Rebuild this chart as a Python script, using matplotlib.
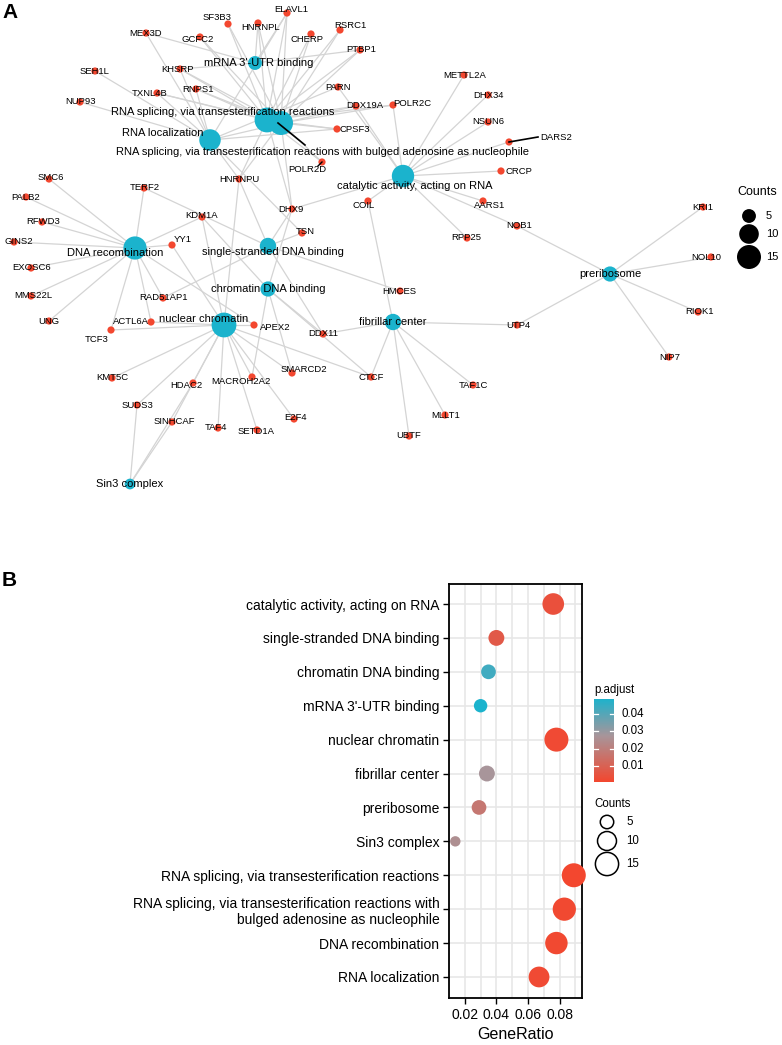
import numpy as np
import matplotlib
matplotlib.use("Agg")
import matplotlib.pyplot as plt
from matplotlib.colors import LinearSegmentedColormap, Normalize

plt.rcParams['font.family'] = ['Liberation Sans', 'DejaVu Sans']

# ---------------- Data ----------------
# Enrichment terms (panel B order, top to bottom)
terms = ["catalytic activity, acting on RNA", "single-stranded DNA binding",
         "chromatin DNA binding", "mRNA 3'-UTR binding", "nuclear chromatin",
         "fibrillar center", "preribosome", "Sin3 complex",
         "RNA splicing, via transesterification reactions",
         "RNA splicing, via transesterification reactions with\nbulged adenosine as nucleophile",
         "DNA recombination", "RNA localization"]
gene_ratio = [0.076, 0.040, 0.035, 0.030, 0.078, 0.034, 0.029, 0.014, 0.089, 0.083, 0.078, 0.067]
p_adjust = [0.004, 0.007, 0.043, 0.0487, 0.002, 0.027, 0.017, 0.025, 0.0008, 0.0015, 0.0015, 0.002]
counts = [13, 7, 6, 5, 16, 7, 6, 3, 16, 15, 14, 12]

# Network (panel A): category nodes layout
cat_names = ["mRNA 3'-UTR binding", "RNA splicing, via transesterification reactions",
             "RNA splicing, via transesterification reactions with bulged adenosine as nucleophile",
             "RNA localization", "catalytic activity, acting on RNA", "DNA recombination",
             "single-stranded DNA binding", "chromatin DNA binding", "nuclear chromatin",
             "fibrillar center", "preribosome", "Sin3 complex"]
cat_counts = [5, 16, 15, 12, 13, 14, 7, 6, 16, 7, 6, 3]
cat_x = [255, 267, 281, 210, 403, 135, 268, 268, 224, 393, 610, 130]
cat_y = [63, 120, 123, 140, 176, 248, 246, 289, 325, 322, 274, 484]
cat_lx = [259, 223, 323, 163, 415, 115, 273, 268, 204, 393, 610, 130]
cat_ly = [63, 112, 152, 133, 186, 253, 252, 289, 319, 322, 274, 484]

# Gene nodes layout
genes = ["ELAVL1", "SF3B3", "HNRNPL", "MEX3D", "GCFC2", "CHERP", "RSRC1", "PTBP1",
         "SEH1L", "KHSRP", "TXNL4B", "RNPS1", "NUP93", "PARN", "DDX19A", "CPSF3",
         "POLR2D", "HNRNPU", "SMC6", "TERF2", "PALB2", "POLR2C", "METTL2A", "DHX34",
         "NSUN6", "DARS2", "CRCP", "KDM1A", "DHX9", "COIL", "RFWD3", "TSN", "GINS2",
         "YY1", "EXOSC6", "MMS22L", "RAD51AP1", "UNG", "ACTL6A", "TCF3", "APEX2",
         "DDX11", "AARS1", "NOB1", "RPP25", "KRI1", "NOL10", "RIOK1", "NIP7", "UTP4",
         "HMCES", "CTCF", "KMT5C", "SMARCD2", "MACROH2A2", "HDAC2", "SUDS3", "SINHCAF",
         "TAF4", "SETD1A", "E2F4", "TAF1C", "MLLT1", "UBTF"]
gene_x = [287, 228, 258, 146, 200, 311, 340, 360, 95, 180, 157, 196, 80, 338, 356, 337,
          322, 239, 49, 144, 26, 393, 464, 488, 488, 509, 501, 202, 292, 368, 42, 302, 14,
          172, 31, 31, 163, 49, 151, 111, 254, 323, 483, 517, 467, 703, 711, 698, 669, 517,
          400, 371, 112, 292, 252, 193, 137, 172, 218, 257, 294, 473, 445, 409]
gene_y = [13, 24, 23, 33, 37, 34, 30, 50, 71, 69, 93, 89, 102, 87, 106, 129, 162, 179,
          179, 188, 197, 105, 75, 95, 122, 142, 171, 217, 209, 201, 222, 233, 242, 245,
          268, 296, 298, 321, 322, 330, 325, 334, 201, 226, 238, 207, 257, 312, 357, 325,
          291, 377, 378, 373, 377, 383, 405, 422, 428, 430, 419, 385, 415, 436]
gene_lx = [291, 217, 261, 146, 198, 307, 350, 361, 95, 177, 150, 198, 81, 338, 365, 355,
           307, 239, 51, 145, 26, 412, 465, 488, 488, 556, 519, 202, 291, 364, 43, 305, 19,
           183, 32, 33, 163, 49, 131, 97, 275, 323, 490, 519, 466, 703, 706, 699, 670, 518,
           399, 371, 112, 304, 241, 186, 137, 174, 216, 256, 296, 473, 446, 409]
gene_ly = [10, 18, 28, 34, 40, 40, 26, 50, 71, 70, 93, 89, 102, 87, 106, 129, 170, 179,
           178, 188, 197, 104, 75, 96, 122, 137, 171, 216, 209, 205, 222, 232, 242, 240,
           268, 296, 298, 321, 321, 339, 328, 334, 205, 226, 238, 207, 257, 312, 357, 325,
           291, 377, 378, 369, 381, 386, 405, 422, 428, 432, 418, 385, 415, 436]

# Gene membership of each category (same order as cat_names)
members = [
    ["ELAVL1", "KHSRP", "PTBP1", "HNRNPL", "MEX3D"],
    ["SF3B3", "HNRNPL", "ELAVL1", "GCFC2", "CHERP", "RSRC1", "PTBP1", "KHSRP", "RNPS1",
     "TXNL4B", "HNRNPU", "DHX9", "POLR2C", "POLR2D", "CPSF3", "DDX19A"],
    ["SF3B3", "HNRNPL", "ELAVL1", "GCFC2", "CHERP", "RSRC1", "PTBP1", "KHSRP", "RNPS1",
     "TXNL4B", "HNRNPU", "DHX9", "POLR2C", "POLR2D", "CPSF3"],
    ["SEH1L", "NUP93", "DDX19A", "RNPS1", "ELAVL1", "KHSRP", "HNRNPU", "PARN", "TSN",
     "MEX3D", "CPSF3", "TXNL4B"],
    ["METTL2A", "DHX34", "NSUN6", "DARS2", "CRCP", "AARS1", "RPP25", "NOB1", "DHX9",
     "PARN", "DDX19A", "POLR2C", "COIL"],
    ["SMC6", "PALB2", "RFWD3", "GINS2", "EXOSC6", "MMS22L", "UNG", "TCF3", "ACTL6A",
     "RAD51AP1", "YY1", "TERF2", "APEX2", "KDM1A"],
    ["TSN", "DHX9", "HMCES", "RAD51AP1", "TERF2", "HNRNPU", "DDX11"],
    ["KDM1A", "SMARCD2", "CTCF", "MACROH2A2", "DDX11", "DHX9"],
    ["KMT5C", "HDAC2", "SUDS3", "SINHCAF", "TAF4", "SETD1A", "MACROH2A2", "E2F4",
     "SMARCD2", "APEX2", "ACTL6A", "TCF3", "KDM1A", "YY1", "CTCF", "HNRNPU"],
    ["COIL", "UTP4", "TAF1C", "MLLT1", "UBTF", "CTCF", "DDX11"],
    ["KRI1", "NOL10", "RIOK1", "NIP7", "UTP4", "NOB1"],
    ["SUDS3", "SINHCAF", "HDAC2"],
]

legend_counts = [5, 10, 15]
cbar_ticks = [0.01, 0.02, 0.03, 0.04]
x_ticks = [0.02, 0.04, 0.06, 0.08]

# ---------------- Style ----------------
RED = '#F3472F'
BLUE = '#1BB3CD'
W, H = 782, 1045
fig = plt.figure(figsize=(W / 100, H / 100), dpi=100)
ax = fig.add_axes([0, 0, 1, 1])
ax.set_xlim(0, W)
ax.set_ylim(H, 0)
ax.axis('off')

px2pt = 72 / 100.0


def s_from_r(r):
    return (2 * r * px2pt) ** 2


def r_net(c):
    return 3.1 * np.sqrt(c)


def r_dot(c):
    return 3.0 * np.sqrt(c)


gidx = {g: i for i, g in enumerate(genes)}

# edges
for ci, mem in enumerate(members):
    for g in mem:
        gi = gidx[g]
        ax.plot([cat_x[ci], gene_x[gi]], [cat_y[ci], gene_y[gi]], color='#d4d4d4',
                lw=0.9, zorder=1, solid_capstyle='round')

# category nodes
ax.scatter(cat_x, cat_y, s=[s_from_r(r_net(c)) for c in cat_counts], color=BLUE,
           edgecolors='none', zorder=2)
# gene nodes
ax.scatter(gene_x, gene_y, s=s_from_r(3.6), color=RED, edgecolors='none', zorder=3)

# label segments (repel connectors)
ax.plot([278, 305], [123, 145], color='black', lw=1.2, zorder=4)
ax.plot([509, 538], [142, 137], color='black', lw=1.2, zorder=4)
ax.plot([322, 318], [162, 166], color='black', lw=1.0, zorder=4)

for i, g in enumerate(genes):
    ax.text(gene_lx[i], gene_ly[i], g, fontsize=6.8, ha='center', va='center', zorder=5)
for i, c in enumerate(cat_names):
    ax.text(cat_lx[i], cat_ly[i], c, fontsize=8, ha='center', va='center', zorder=5)

# Panel A size legend
ax.text(757, 192, "Counts", fontsize=9, ha='center', va='center')
leg_y_A = [216, 234, 257]
for c, yy in zip(legend_counts, leg_y_A):
    ax.scatter([749], [yy], s=s_from_r(r_net(c)), color='black', edgecolors='none')
    ax.text(766, yy, str(c), fontsize=8, ha='left', va='center')

# Panel letters
ax.text(2, 12, "A", fontsize=15, fontweight='bold', ha='left', va='center')
ax.text(2, 580, "B", fontsize=15, fontweight='bold', ha='left', va='center')

# ---------------- Panel B ----------------
cmap = LinearSegmentedColormap.from_list('padj', [(0, RED), (0.55, '#a8959a'), (1, BLUE)])
norm = Normalize(vmin=0.0008, vmax=0.0487)

axb = fig.add_axes([449 / W, (H - 998) / H, 133 / W, 414 / H])
n = len(terms)
ypos = np.arange(n)
axb.set_ylim(n - 1 + 0.62, -0.59)
axb.set_xlim(0.0113, 0.0942)
axb.set_xticks(x_ticks)
axb.set_xticks([0.01, 0.03, 0.05, 0.07, 0.09], minor=True)
axb.set_xticklabels([f"{t:.2f}" for t in x_ticks])
axb.set_yticks(ypos)
axb.set_yticklabels(terms)
axb.grid(True, which='both', color='#e6e6e6', lw=1.1)
axb.set_axisbelow(True)
axb.tick_params(axis='both', which='major', length=4, width=1, labelsize=10,
                colors='black', pad=3)
axb.tick_params(axis='x', which='minor', length=0)
for sp in axb.spines.values():
    sp.set_linewidth(1.3)
    sp.set_color('black')
axb.scatter(gene_ratio, ypos, s=[s_from_r(r_dot(c)) for c in counts],
            c=p_adjust, cmap=cmap, norm=norm, edgecolors='none', zorder=3, clip_on=False)
axb.set_xlabel("GeneRatio", fontsize=11.5, labelpad=4)
for lab in axb.get_yticklabels():
    lab.set_multialignment('right')

# colorbar
cax = fig.add_axes([594 / W, (H - 782) / H, 20 / W, 83 / H])
grad = np.linspace(norm.vmin, norm.vmax, 256).reshape(-1, 1)
cax.imshow(grad, aspect='auto', cmap=cmap, norm=norm, origin='lower',
           extent=[0, 1, norm.vmin, norm.vmax])
cax.set_xlim(0, 1)
cax.set_ylim(norm.vmin, norm.vmax)
cax.set_xticks([])
cax.set_yticks([])
for sp in cax.spines.values():
    sp.set_visible(False)
for t in cbar_ticks:
    cax.plot([0, 0.2], [t, t], color='white', lw=0.9)
    cax.plot([0.8, 1], [t, t], color='white', lw=0.9)
    ax.text(622, 782 - (t - norm.vmin) / (norm.vmax - norm.vmin) * 83, f"{t:.2f}",
            fontsize=8.3, ha='left', va='center')
ax.text(594, 690, "p.adjust", fontsize=8.3, ha='left', va='center')

# size legend B
ax.text(594, 804, "Counts", fontsize=8.3, ha='left', va='center')
leg_y_B = [822, 841, 864]
for c, yy in zip(legend_counts, leg_y_B):
    ax.scatter([607], [yy], s=s_from_r(r_dot(c)), facecolors='none', edgecolors='black',
               linewidths=1.1)
    ax.text(626, yy, str(c), fontsize=8.3, ha='left', va='center')

fig.savefig("out.png", dpi=100)
